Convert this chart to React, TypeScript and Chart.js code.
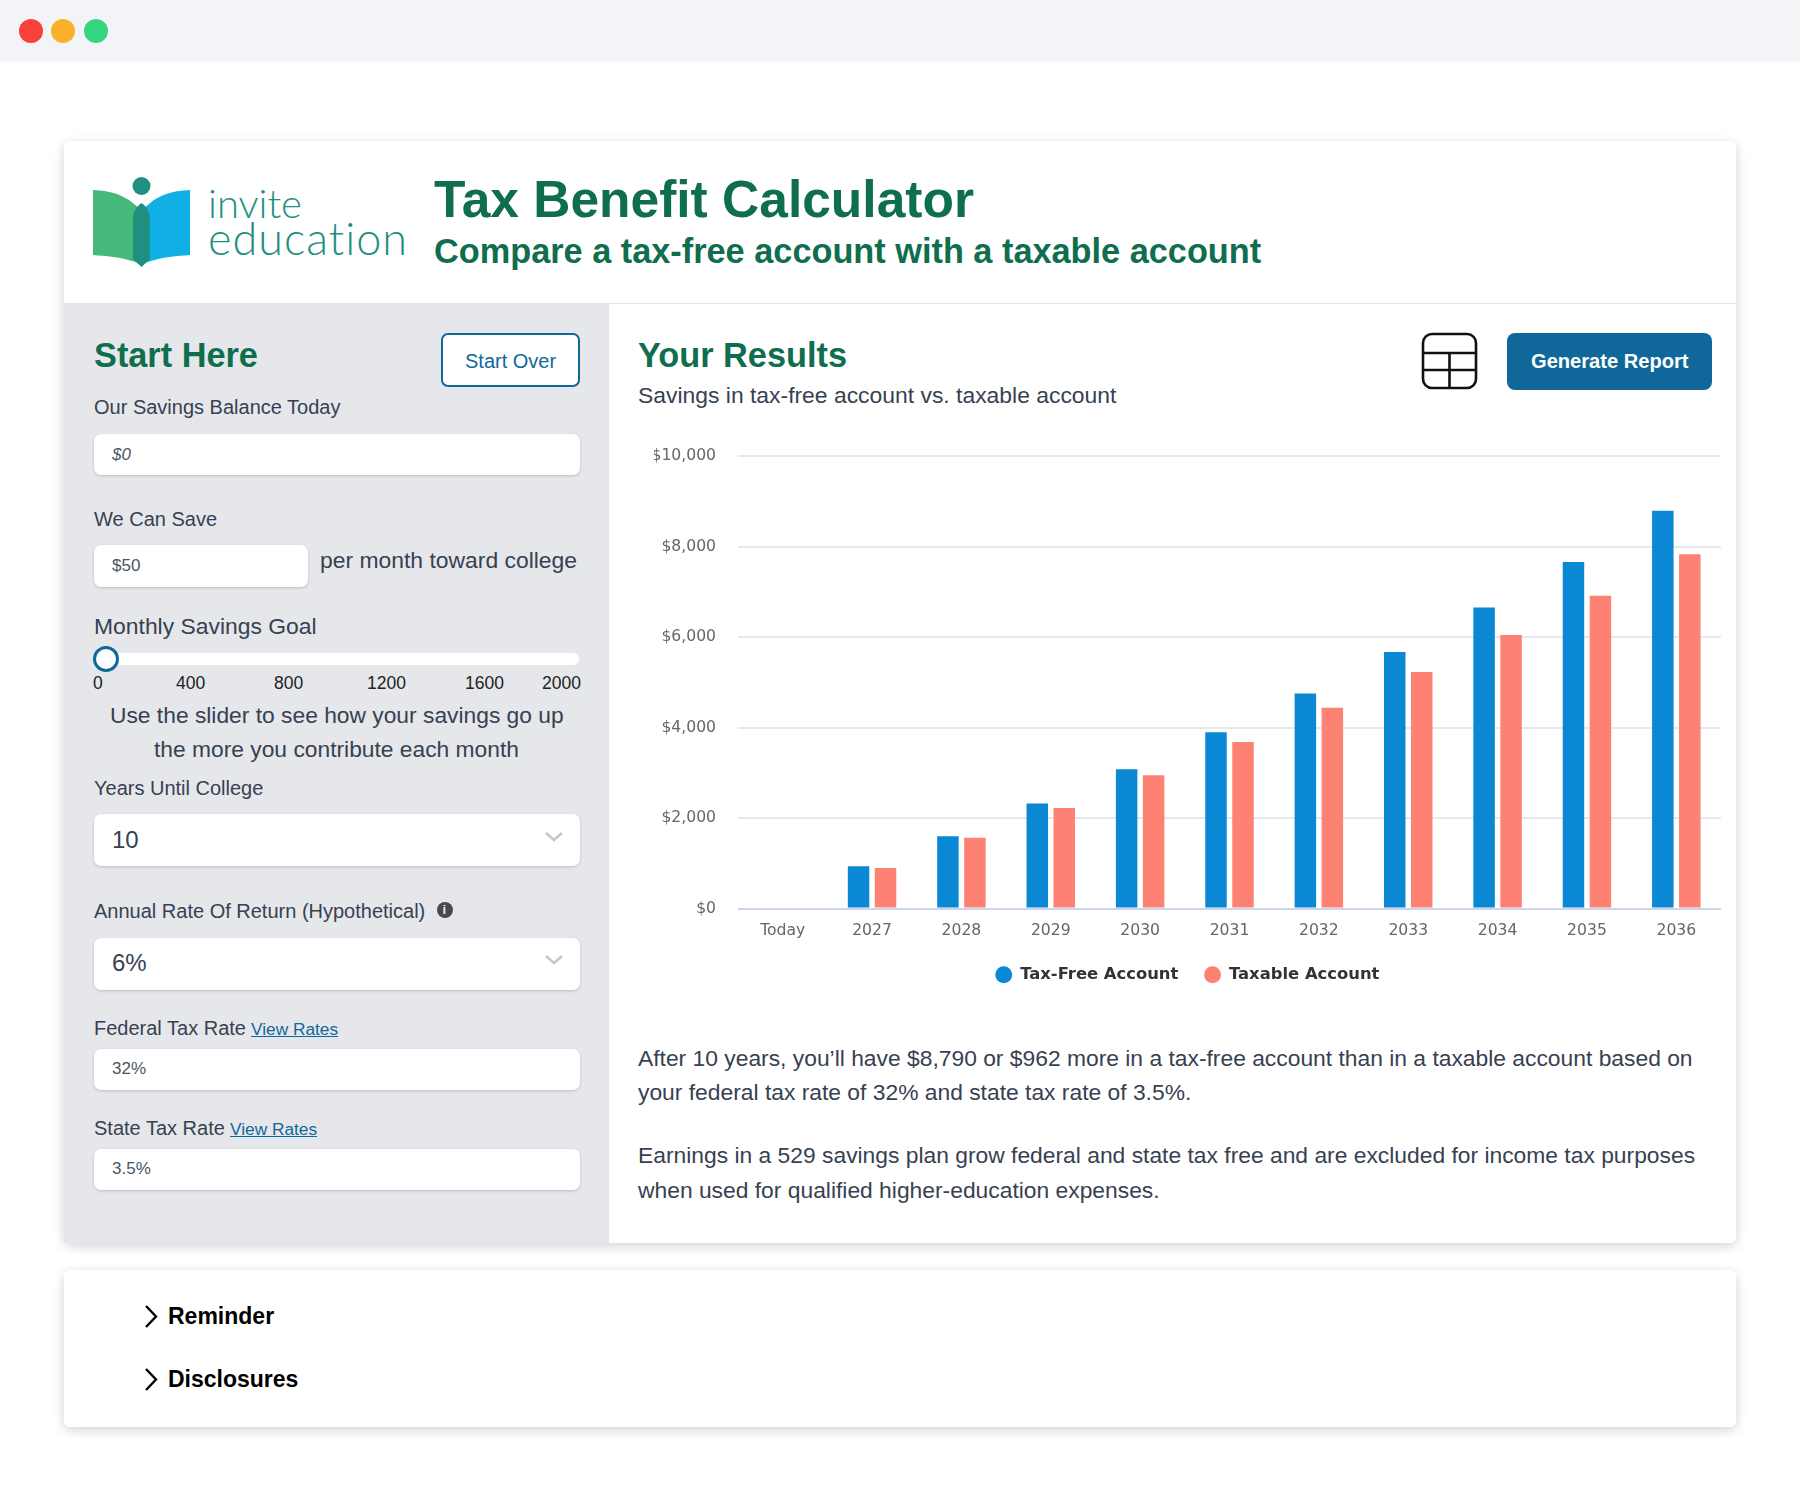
import { useEffect, useRef, type CSSProperties, type ReactNode } from 'react';
import { Chart, registerables } from 'chart.js';

Chart.register(...registerables);

const categories = ['Today', '2027', '2028', '2029', '2030', '2031', '2032', '2033', '2034', '2035', '2036'];
const taxFree = [0, 933, 1599, 2323, 3081, 3897, 4754, 5670, 6653, 7660, 8790];
const taxable = [0, 899, 1565, 2223, 2948, 3680, 4438, 5229, 6045, 6911, 7828];
const sliderTicks = [
  { label: '0', x: 93 },
  { label: '400', x: 176 },
  { label: '800', x: 274 },
  { label: '1200', x: 367 },
  { label: '1600', x: 465 },
  { label: '2000', x: 542 },
];

const BODY = '"Liberation Sans", Arial, sans-serif';
const GREEN = '#0f6e4e';
const SLATE = '#374151';
const BLUE = '#10689a';

interface TextProps {
  x: number;
  y: number;
  size: number;
  color?: string;
  weight?: number;
  italic?: boolean;
  children: ReactNode;
  style?: CSSProperties;
}

// y is the vertical middle of the line
function T({ x, y, size, color = SLATE, weight = 400, italic, children, style }: TextProps) {
  return (
    <div
      style={{
        position: 'absolute',
        left: x,
        top: y - 30,
        height: 60,
        lineHeight: '60px',
        fontSize: size,
        color,
        fontWeight: weight,
        fontStyle: italic ? 'italic' : 'normal',
        fontFamily: BODY,
        whiteSpace: 'nowrap',
        ...style,
      }}
    >
      {children}
    </div>
  );
}

function Box({ x, y, w, h, style }: { x: number; y: number; w: number; h: number; style?: CSSProperties }) {
  return <div style={{ position: 'absolute', left: x, top: y, width: w, height: h, boxSizing: 'border-box', ...style }} />;
}

function Field({ x, y, w, h }: { x: number; y: number; w: number; h: number }) {
  return (
    <Box
      x={x}
      y={y}
      w={w}
      h={h}
      style={{ background: '#fff', borderRadius: 7, boxShadow: '0 1px 3px rgba(0,0,0,0.18)' }}
    />
  );
}

function Chevron({ x, y }: { x: number; y: number }) {
  return (
    <svg style={{ position: 'absolute', left: x, top: y }} width="20" height="12">
      <path d="M2 2 L10 9 L18 2" fill="none" stroke="#c4c8cc" strokeWidth="2.6" />
    </svg>
  );
}

function Caret({ x, y }: { x: number; y: number }) {
  return (
    <svg style={{ position: 'absolute', left: x, top: y }} width="16" height="26">
      <path d="M3 2 L13 12.5 L3 23" fill="none" stroke="#000" strokeWidth="2.4" />
    </svg>
  );
}

function Logo() {
  return (
    <svg style={{ position: 'absolute', left: 0, top: 0 }} width="240" height="300">
      <path d="M93 190 C112 191 124 195 134 204 L141.5 210 L141.5 264 L132 261 C120 257 106 256 93 255 Z" fill="#46b87a" />
      <path d="M190 190 C171 191 159 195 149 204 L141.5 210 L141.5 264 L151 261 C163 257 177 256 190 255 Z" fill="#10b0e6" />
      <path d="M133 220 C133 211 137 206 141.5 203 C146 206 150 211 150 220 L150 259 L141.5 267 L133 259 Z" fill="#1f8f80" />
      <circle cx="141.5" cy="186" r="9" fill="#1f8f80" />
    </svg>
  );
}

function BarChart() {
  const canvasRef = useRef<HTMLCanvasElement>(null);

  useEffect(() => {
    if (!canvasRef.current) return;
    const chart = new Chart(canvasRef.current, {
      type: 'bar',
      data: {
        labels: categories,
        datasets: [
          { label: 'Tax-Free Account', data: taxFree, backgroundColor: '#0b88d4' },
          { label: 'Taxable Account', data: taxable, backgroundColor: '#fe8273' },
        ],
      },
      options: {
        animation: false,
        responsive: false,
        devicePixelRatio: 1,
        layout: { autoPadding: false, padding: { top: 16, right: 9, left: 0, bottom: 0 } },
        datasets: { bar: { categoryPercentage: 0.604, barPercentage: 0.796 } },
        plugins: {
          tooltip: { enabled: false },
          legend: {
            position: 'bottom',
            labels: {
              usePointStyle: true,
              pointStyle: 'circle',
              boxWidth: 24,
              boxHeight: 12,
              padding: 26,
              color: '#333333',
              font: { family: '"DejaVu Sans"', size: 16.4, weight: 'bold' },
            },
          },
        },
        scales: {
          x: {
            grid: { display: false },
            border: { display: false },
            afterFit: (scale) => {
              scale.height = 32;
            },
            ticks: {
              color: '#666666',
              padding: 5,
              maxRotation: 0,
              font: { family: '"DejaVu Sans"', size: 15.6 },
            },
          },
          y: {
            min: 0,
            max: 10000,
            afterFit: (scale) => {
              scale.width = 84;
            },
            border: { display: false },
            grid: {
              tickLength: 18,
              tickColor: 'transparent',
              lineWidth: 2,
              color: (ctx) => (ctx.tick.value === 0 ? '#ccd6eb' : '#e8e8ec'),
            },
            ticks: {
              stepSize: 2000,
              color: '#666666',
              padding: 4,
              font: { family: '"DejaVu Sans"', size: 15.6 },
              callback: (value) => '$' + Number(value).toLocaleString('en-US'),
            },
          },
        },
      },
    });
    return () => chart.destroy();
  }, []);

  return <canvas ref={canvasRef} width={1076} height={553} style={{ position: 'absolute', left: 654, top: 440 }} />;
}

export default function App() {
  return (
    <div style={{ position: 'absolute', left: 0, top: 0, width: 1800, height: 1500, background: '#fff', overflow: 'hidden' }}>
      {/* window bar */}
      <Box x={0} y={0} w={1800} h={60} style={{ background: '#f3f4f8', boxShadow: '0 1px 3px rgba(0,0,0,0.08)' }} />
      <Box x={19} y={19} w={24} h={24} style={{ background: '#f7413a', borderRadius: '50%' }} />
      <Box x={51} y={19} w={24} h={24} style={{ background: '#fbb02c', borderRadius: '50%' }} />
      <Box x={84} y={19} w={24} h={24} style={{ background: '#35d67f', borderRadius: '50%' }} />

      {/* main card */}
      <Box x={64} y={141} w={1672} h={1102} style={{ background: '#fff', borderRadius: 6, boxShadow: '0 3px 12px rgba(0,0,0,0.18)' }} />
      <Box x={64} y={303} w={1672} h={1} style={{ background: '#e5e7eb' }} />
      <Box x={64} y={303} w={545} h={940} style={{ background: '#e5e7eb' }} />

      <Logo />
      <T x={208} y={203} size={40} weight={300} color="#1f9080" style={{ fontFamily: 'Lato' }}>invite</T>
      <T x={208} y={238} size={45} weight={300} color="#1f9080" style={{ fontFamily: 'Lato', letterSpacing: 1 }}>education</T>
      <T x={434} y={199} size={51.5} weight={700} color={GREEN}>Tax Benefit Calculator</T>
      <T x={434} y={251} size={34.3} weight={700} color={GREEN}>Compare a tax-free account with a taxable account</T>

      {/* left panel */}
      <T x={94} y={355} size={34.3} weight={700} color={GREEN}>Start Here</T>
      <Box x={441} y={333} w={139} h={54} style={{ background: '#fff', border: `2px solid ${BLUE}`, borderRadius: 7 }} />
      <T x={465} y={361} size={20} color={BLUE}>Start Over</T>

      <T x={94} y={407} size={20}>Our Savings Balance Today</T>
      <Field x={94} y={434} w={486} h={41} />
      <T x={112} y={455} size={17} italic color="#4b5563">$0</T>

      <T x={94} y={519} size={20}>We Can Save</T>
      <Field x={94} y={545} w={214} h={42} />
      <T x={112} y={566} size={17} color="#4b5563">$50</T>
      <T x={320} y={560} size={22.9}>per month toward college</T>

      <T x={94} y={626} size={22.9}>Monthly Savings Goal</T>
      <Box x={94} y={653} w={485} h={12} style={{ background: '#fff', borderRadius: 6 }} />
      <Box x={93} y={646} w={26} h={26} style={{ background: '#fff', border: `3px solid ${BLUE}`, borderRadius: '50%' }} />
      {sliderTicks.map((t) => (
        <T key={t.label} x={t.x} y={683} size={17.5} color="#222">{t.label}</T>
      ))}
      <T x={110} y={715} size={22.8}>Use the slider to see how your savings go up</T>
      <T x={154} y={749} size={22.8}>the more you contribute each month</T>

      <T x={94} y={788} size={20}>Years Until College</T>
      <Field x={94} y={814} w={486} h={52} />
      <T x={112} y={840} size={24}>10</T>
      <Chevron x={544} y={831} />

      <T x={94} y={911} size={20}>Annual Rate Of Return (Hypothetical)</T>
      <Box x={437} y={902} w={16} h={16} style={{ background: '#4a4a4a', borderRadius: '50%' }} />
      <T x={442.5} y={910} size={13} weight={700} color="#e5e7eb">i</T>
      <Field x={94} y={938} w={486} h={52} />
      <T x={112} y={963} size={24}>6%</T>
      <Chevron x={544} y={954} />

      <T x={94} y={1028} size={20}>Federal Tax Rate</T>
      <T x={251} y={1029} size={17.3} color={BLUE} style={{ textDecoration: 'underline' }}>View Rates</T>
      <Field x={94} y={1049} w={486} h={41} />
      <T x={112} y={1069} size={17} color="#4b5563">32%</T>

      <T x={94} y={1128} size={20}>State Tax Rate</T>
      <T x={230} y={1129} size={17.3} color={BLUE} style={{ textDecoration: 'underline' }}>View Rates</T>
      <Field x={94} y={1149} w={486} h={41} />
      <T x={112} y={1169} size={17} color="#4b5563">3.5%</T>

      {/* results */}
      <T x={638} y={355} size={34.3} weight={700} color={GREEN}>Your Results</T>
      <T x={638} y={395} size={22.9}>Savings in tax-free account vs. taxable account</T>
      <svg style={{ position: 'absolute', left: 1420, top: 331 }} width="60" height="60">
        <rect x="3" y="3" width="53" height="54" rx="9" fill="none" stroke="#111" strokeWidth="2.6" />
        <path d="M3 22 H56 M3 39 H56 M29.5 22 V57" fill="none" stroke="#111" strokeWidth="2.6" />
      </svg>
      <Box x={1507} y={333} w={205} h={57} style={{ background: BLUE, borderRadius: 8 }} />
      <T x={1531} y={361} size={20.1} weight={700} color="#fff">Generate Report</T>

      <BarChart />

      <T x={638} y={1058} size={22.83}>After 10 years, you’ll have $8,790 or $962 more in a tax-free account than in a taxable account based on</T>
      <T x={638} y={1092} size={22.83}>your federal tax rate of 32% and state tax rate of 3.5%.</T>
      <T x={638} y={1155} size={22.83}>Earnings in a 529 savings plan grow federal and state tax free and are excluded for income tax purposes</T>
      <T x={638} y={1190} size={22.83}>when used for qualified higher-education expenses.</T>

      {/* accordion card */}
      <Box x={64} y={1270} w={1672} h={157} style={{ background: '#fff', borderRadius: 6, boxShadow: '0 3px 12px rgba(0,0,0,0.18)' }} />
      <Caret x={143} y={1304} />
      <T x={168} y={1316} size={23} weight={700} color="#000">Reminder</T>
      <Caret x={143} y={1367} />
      <T x={168} y={1379} size={23} weight={700} color="#000">Disclosures</T>
    </div>
  );
}
